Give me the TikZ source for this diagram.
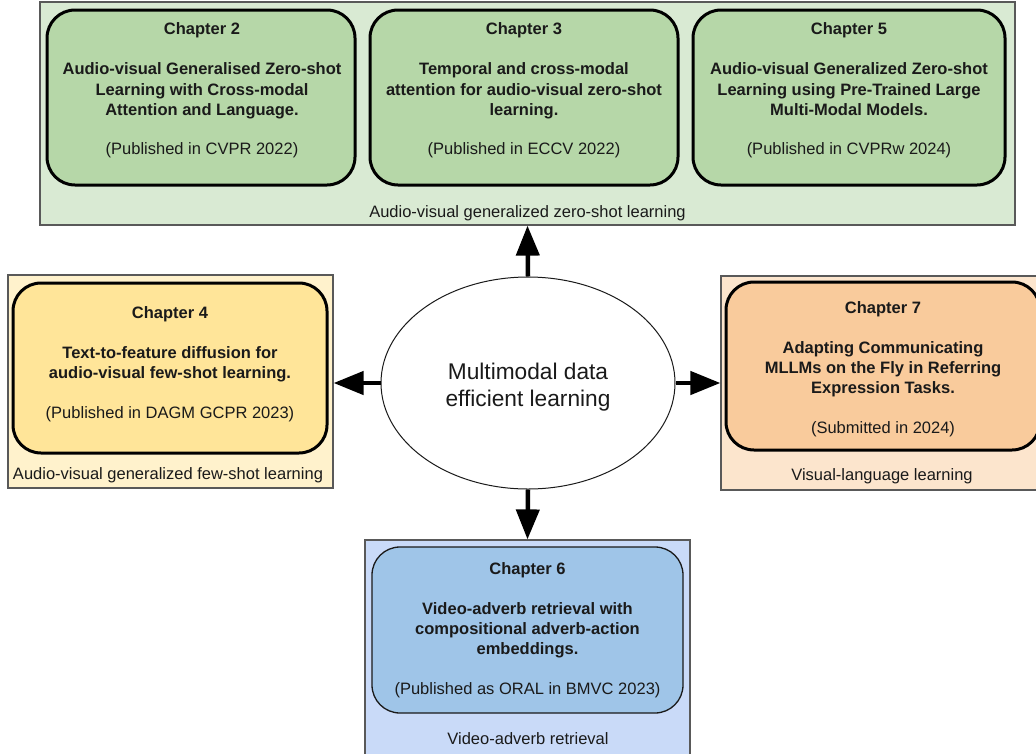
\documentclass[tikz,border=0pt]{standalone}
\usepackage{fontspec}
\setmainfont{Liberation Sans}
\usetikzlibrary{arrows.meta,shapes.geometric}

\definecolor{grpgreen}{HTML}{D9EAD3}
\definecolor{chgreen}{HTML}{B6D7A8}
\definecolor{grpyellow}{HTML}{FFF2CC}
\definecolor{chyellow}{HTML}{FFE599}
\definecolor{grporange}{HTML}{FCE5CD}
\definecolor{chorange}{HTML}{F9CB9C}
\definecolor{grpblue}{HTML}{C9DAF8}
\definecolor{chblue}{HTML}{9FC5E8}
\definecolor{frame}{HTML}{595959}
\definecolor{ink}{HTML}{1A1A1A}

\tikzset{
  group/.style={rectangle, draw=frame, line width=1.2pt, inner sep=0pt},
  chbox/.style={rectangle, rounded corners=28pt, draw=black, line width=3pt, inner sep=0pt},
  chtext/.style={align=center, text=ink, inner sep=0pt,
    font=\fontsize{16.5}{20.4}\selectfont},
  grplabel/.style={text=ink, inner sep=0pt, font=\fontsize{16.5}{20}\selectfont},
  bigarrow/.style={line width=4.5pt, -{Triangle[length=30pt,width=23pt]}},
}

\begin{document}
\begin{tikzpicture}[x=1pt,y=-1pt]
\clip (0,0) rectangle (1036,753);
\fill[white] (0,0) rectangle (1036,753);

% topic groups
\node[group, fill=grpgreen, minimum width=975pt, minimum height=223pt] (zsl) at (527.5,113.5) {};
\node[group, fill=grpyellow, minimum width=325pt, minimum height=213pt] (fsl) at (170.5,381.5) {};
\node[group, fill=grporange, minimum width=330pt, minimum height=214pt] (vll) at (886,383) {};
\node[group, fill=grpblue, minimum width=325pt, minimum height=225pt] (var) at (527.5,652.5) {};

% chapter boxes
\node[chbox, fill=chgreen, minimum width=308pt, minimum height=175pt] (ch2) at (201,97.5) {};
\node[chbox, fill=chgreen, minimum width=308pt, minimum height=175pt] (ch3) at (524,97.5) {};
\node[chbox, fill=chgreen, minimum width=312pt, minimum height=175pt] (ch5) at (849,97.5) {};
\node[chbox, fill=chyellow, minimum width=314pt, minimum height=170pt] (ch4) at (170,368) {};
\node[chbox, fill=chorange, minimum width=314pt, minimum height=168pt] (ch7) at (883,366) {};
\node[chbox, fill=chblue, draw=ink, line width=1.3pt, minimum width=311pt, minimum height=166pt] (ch6) at (527.5,630) {};

% chapter texts
\node[chtext] (ch2t) at (202,90) {\textbf{Chapter 2}\\[20.4pt]
  \textbf{Audio-visual Generalised Zero-shot}\\
  \textbf{Learning with Cross-modal}\\
  \textbf{Attention and Language.}\\[18.5pt]
  (Published in CVPR 2022)};
\node[chtext] (ch3t) at (524,90) {\textbf{Chapter 3}\\[20.4pt]
  \textbf{Temporal and cross-modal}\\
  \textbf{attention for audio-visual zero-shot}\\
  \textbf{learning.}\\[18.5pt]
  (Published in ECCV 2022)};
\node[chtext] (ch5t) at (849,90) {\textbf{Chapter 5}\\[20.4pt]
  \textbf{Audio-visual Generalized Zero-shot}\\
  \textbf{Learning using Pre-Trained Large}\\
  \textbf{Multi-Modal Models.}\\[18.5pt]
  (Published in CVPRw 2024)};
\node[chtext] (ch4t) at (170,364.5) {\textbf{Chapter 4}\\[19.5pt]
  \textbf{Text-to-feature diffusion for}\\
  \textbf{audio-visual few-shot learning.}\\[19.5pt]
  (Published in DAGM GCPR 2023)};
\node[chtext] (ch7t) at (883,369) {\textbf{Chapter 7}\\[19.5pt]
  \textbf{Adapting Communicating}\\
  \textbf{MLLMs on the Fly in Referring}\\
  \textbf{Expression Tasks.}\\[19pt]
  (Submitted in 2024)};
\node[chtext] (ch6t) at (527.5,630) {\textbf{Chapter 6}\\[19.5pt]
  \textbf{Video-adverb retrieval with}\\
  \textbf{compositional adverb-action}\\
  \textbf{embeddings.}\\[19pt]
  (Published as ORAL in BMVC 2023)};

% group captions
\node[grplabel] (zslL) at (527.5,213) {Audio-visual generalized zero-shot learning};
\node[grplabel] (fslL) at (168,475) {Audio-visual generalized few-shot learning};
\node[grplabel] (vllL) at (882,476) {Visual-language learning};
\node[grplabel] (varL) at (528,739) {Video-adverb retrieval};

% central theme
\node[ellipse, draw=ink, fill=white, line width=1pt, minimum width=294pt, minimum height=212pt,
      inner sep=0pt] (core) at (528,383) {};
\node[align=center, text=ink, inner sep=0pt, font=\fontsize{22.7}{26.7}\selectfont]
      (coreT) at (528,387) {Multimodal data\\efficient learning};

% connectors
\draw[bigarrow] (core.north) -- (zsl.south);
\draw[bigarrow] (core.west) -- (core.west -| fsl.east);
\draw[bigarrow] (core.east) -- (core.east -| vll.west);
\draw[bigarrow] (core.south) -- (var.north);
\end{tikzpicture}
\end{document}
